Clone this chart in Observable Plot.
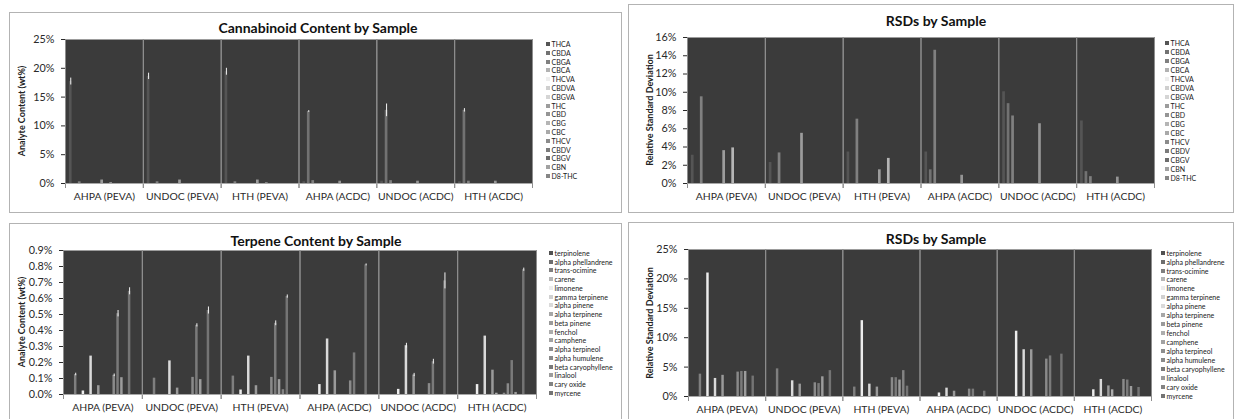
<!DOCTYPE html>
<html><head><meta charset="utf-8">
<script src="https://cdn.jsdelivr.net/npm/d3@7"></script>
<script src="https://cdn.jsdelivr.net/npm/@observablehq/plot@0.6"></script>
<style>
body{margin:0;background:#fff;font-family:Lato,"Open Sans",sans-serif;}
#page{position:relative;width:1236px;height:419px;overflow:hidden;background:#fff;}
.box{position:absolute;border:1px solid #b3b3b3;box-sizing:border-box;}
.title{position:absolute;font-weight:bold;font-size:14px;color:#111;transform:translate(-50%,-50%);white-space:nowrap;}
.ytitle{position:absolute;font-weight:bold;font-size:9px;color:#222;transform:translate(-50%,-50%) rotate(-90deg);white-space:nowrap;}
.legend{position:absolute;font-size:7px;color:#222;}
.legend .row{display:flex;align-items:center;white-space:nowrap;}
.legend .sw{display:inline-block;width:4px;height:4px;margin-right:1.5px;flex:none;}
.chart{position:absolute;}
.chart g[aria-label^="fx-axis"] text{font-size:10.4px;}
.chart g[aria-label^="y-axis"] text{font-size:10.8px;}
</style></head><body><div id="page"></div>
<script>
const samples = ["AHPA (PEVA)", "UNDOC (PEVA)", "HTH (PEVA)", "AHPA (ACDC)", "UNDOC (ACDC)", "HTH (ACDC)"];

const cannabinoids = ["THCA","CBDA","CBGA","CBCA","THCVA","CBDVA","CBGVA","THC","CBD","CBG","CBC","THCV","CBDV","CBGV","CBN","D8-THC"];
const cannabinoidColors = ["#555555","#727272","#808080","#b2b2b2","#eeeeee","#cfcfcf","#d5d5d5","#9c9c9c","#959595","#b5b5b5","#a9a9a9","#8b8b8b","#7b7b7b","#6d6d6d","#a1a1a1","#868686"];

const terpenes = ["terpinolene","alpha phellandrene","trans-ocimine","carene","limonene","gamma terpinene","alpha pinene","alpha terpinene","beta pinene","fenchol","camphene","alpha terpineol","alpha humulene","beta caryophyllene","linalool","cary oxide","myrcene"];
const terpeneColors = ["#515151","#6e6e6e","#7f7f7f","#b6b6b6","#ededed","#d0d0d0","#dadada","#a7a7a7","#9a9a9a","#adadad","#a2a2a2","#8e8e8e","#8a8a8a","#7a7a7a","#9c9c9c","#838383","#747474"];

// wt% per sample (rows) and cannabinoid (columns)
const cannabinoidContent = [
  [17.7,0,0.3,0,0,0,0,0.6,0,0.12,0,0,0,0,0,0],
  [18.6,0,0.3,0,0,0,0,0.6,0,0,0,0,0,0,0,0],
  [19.4,0,0.3,0,0,0,0,0.6,0,0.1,0,0,0,0,0,0],
  [0.3,12.5,0.5,0,0,0,0,0,0.4,0,0,0,0,0,0,0],
  [0.4,12.7,0.5,0,0,0,0,0,0.4,0,0,0,0,0,0,0],
  [0.3,12.7,0.4,0,0,0,0,0,0.4,0,0,0,0,0,0,0]
];
const cannabinoidContentErr = [
  [0.6,0,0,0,0,0,0,0,0,0,0,0,0,0,0,0],
  [0.55,0,0,0,0,0,0,0,0,0,0,0,0,0,0,0],
  [0.6,0,0,0,0,0,0,0,0,0,0,0,0,0,0,0],
  [0,0.15,0,0,0,0,0,0,0,0,0,0,0,0,0,0],
  [0,1.1,0,0,0,0,0,0,0,0,0,0,0,0,0,0],
  [0,0.3,0,0,0,0,0,0,0,0,0,0,0,0,0,0]
];
// RSD % per sample and cannabinoid
const cannabinoidRSD = [
  [3.1,0,9.5,0,0,0,0,3.6,0,3.9,0,0,0,0,0,0],
  [2.3,0,3.35,0,0,0,0,5.5,0,0,0,0,0,0,0,0],
  [3.45,0,7.05,0,0,0,0,1.5,0,2.75,0,0,0,0,0,0],
  [3.45,1.5,14.6,0,0,0,0,0,0.9,0,0,0,0,0,0,0],
  [10.05,8.75,7.4,0,0,0,0,0,6.55,0,0,0,0,0,0,0],
  [6.85,1.3,0.75,0,0,0,0,0,0.7,0,0,0,0,0,0,0]
];
// wt% per sample and terpene
const terpeneContent = [
  [0,0,0.125,0,0.022,0,0.24,0,0.055,0,0,0,0.12,0.505,0.105,0,0.645],
  [0,0,0.102,0,0,0,0.21,0,0.04,0,0,0,0.107,0.432,0.093,0,0.525],
  [0,0,0.115,0,0.028,0,0.24,0,0.055,0,0,0,0.107,0.445,0.093,0.03,0.612],
  [0,0,0,0,0.062,0,0.347,0,0.148,0,0,0,0.085,0.26,0,0,0.81],
  [0,0,0,0,0.032,0,0.305,0,0.122,0,0,0,0.068,0.205,0,0,0.71],
  [0,0,0,0,0.062,0,0.365,0,0.152,0.008,0,0.008,0.067,0.212,0.013,0,0.78]
];
const terpeneContentErr = [
  [0,0,0.008,0,0,0,0,0,0,0,0,0,0.008,0.02,0,0,0.022],
  [0,0,0,0,0,0,0,0,0,0,0,0,0,0.01,0,0,0.022],
  [0,0,0,0,0,0,0,0,0,0,0,0,0,0.015,0,0,0.01],
  [0,0,0,0,0,0,0,0,0,0,0,0,0,0,0,0,0.006],
  [0,0,0,0,0,0,0.015,0,0.01,0,0,0,0,0.015,0,0,0.05],
  [0,0,0,0,0,0,0,0,0,0,0,0,0,0,0,0,0.01]
];
// RSD % per sample and terpene
const terpeneRSD = [
  [0,0,3.8,0,21.0,0,3.07,0,3.6,0,0,0,4.15,4.26,4.26,0,3.47],
  [0,0,4.7,0,0,0,2.67,0,2.1,0,0,0,2.33,2.2,3.35,0,4.4],
  [0,0,1.6,0,12.9,0,2.1,0,1.6,0,0,0,3.2,3.2,2.8,4.4,1.76],
  [0,0,0,0,0.6,0,1.42,0,0.9,0,0,0,1.25,1.25,0,0,0.9],
  [0,0,0,0,11.1,0,7.95,0,7.95,0,0,0,6.36,6.9,0,0,7.2],
  [0,0,0,0,1.14,0,2.9,0,1.8,1.14,0,0,2.9,2.8,1.7,0,1.53]
];

const cannabinoidContentTicks = [0,5,10,15,20,25];
const cannabinoidRSDTicks = [0,2,4,6,8,10,12,14,16];
const terpeneContentTicks = [0,0.1,0.2,0.3,0.4,0.5,0.6,0.7,0.8,0.9];
const terpeneRSDTicks = [0,5,10,15,20,25];

const page = document.getElementById("page");

function addEl(cls, css, text) {
  const d = document.createElement("div");
  d.className = cls;
  Object.assign(d.style, css);
  if (text != null) d.textContent = text;
  page.appendChild(d);
  return d;
}

function rowsOf(values, errs, analytes) {
  const out = [];
  samples.forEach((s, i) => analytes.forEach((a, j) => out.push({sample: s, analyte: a, value: values[i][j], err: errs ? errs[i][j] : 0})));
  return out;
}

function panel(cfg) {
  addEl("box", {left: cfg.box[0] + "px", top: cfg.box[1] + "px", width: cfg.box[2] + "px", height: cfg.box[3] + "px"});
  addEl("title", {left: cfg.title[0] + "px", top: cfg.title[1] + "px"}, cfg.titleText);
  addEl("ytitle", {left: cfg.ytitle[0] + "px", top: cfg.ytitle[1] + "px"}, cfg.ytitleText);
  const data = rowsOf(cfg.values, cfg.errs, cfg.analytes);
  const ticks = cfg.ticks;
  const svg = Plot.plot({
    width: cfg.w, height: cfg.h,
    marginLeft: cfg.m[0], marginRight: cfg.m[1], marginTop: cfg.m[2], marginBottom: cfg.m[3],
    style: {fontFamily: "Lato, 'Open Sans', sans-serif", fontSize: "11px", color: "#2a2a2a", background: "transparent", overflow: "visible"},
    fx: {domain: samples, padding: 0, round: false, label: null, axis: "bottom", tickSize: 0, tickPadding: 9},
    x: {domain: cfg.analytes, axis: null, round: false, paddingInner: cfg.pi, paddingOuter: cfg.po, align: cfg.align},
    y: {domain: [0, ticks[ticks.length - 1]], ticks: ticks, tickFormat: cfg.fmt, tickSize: 4, tickPadding: 7, label: null},
    color: {domain: cfg.analytes, range: cfg.colors},
    marks: [
      Plot.frame({fill: "#3b3b3b"}),
      Plot.frame({anchor: "left", stroke: "#8e8e8e", insetBottom: -4}),
      Plot.frame({anchor: "right", stroke: "#8e8e8e", insetBottom: -4}),
      Plot.barY(data, {fx: "sample", x: "analyte", y: "value", fill: "analyte"}),
      Plot.ruleX(data.filter(d => d.err > 0), {fx: "sample", x: "analyte", y1: d => d.value - d.err, y2: d => d.value + d.err, stroke: "#f2f2f2", strokeWidth: 1}),
      Plot.ruleY([0], {stroke: "#a8a8a8"})
    ]
  });
  svg.classList.add("chart");
  svg.style.left = cfg.pos[0] + "px";
  svg.style.top = cfg.pos[1] + "px";
  page.appendChild(svg);
  const lg = addEl("legend", {left: cfg.legend[0] + "px", top: cfg.legend[1] + "px"});
  cfg.analytes.forEach((a, i) => {
    const r = document.createElement("div");
    r.className = "row";
    r.style.height = cfg.legend[2] + "px";
    const sw = document.createElement("span");
    sw.className = "sw";
    sw.style.background = cfg.colors[i];
    const t = document.createElement("span");
    t.textContent = a;
    r.appendChild(sw); r.appendChild(t);
    lg.appendChild(r);
  });
}

const pct = d => d + "%";
const pct1 = d => d.toFixed(1) + "%";

panel({
  box: [9, 12, 613, 201], title: [318, 27], titleText: "Cannabinoid Content by Sample",
  ytitle: [21, 111], ytitleText: "Analyte Content (wt%)",
  values: cannabinoidContent, errs: cannabinoidContentErr, analytes: cannabinoids, colors: cannabinoidColors,
  ticks: cannabinoidContentTicks, fmt: pct,
  pos: [9, 30], w: 540, h: 182, m: [56, 17, 9, 29], pi: 0.4, po: 0.87, align: 0.5,
  legend: [546, 39.6, 8.8]
});
panel({
  box: [628, 4, 606, 209], title: [936, 20], titleText: "RSDs by Sample",
  ytitle: [649, 110], ytitleText: "Relative Standard Deviation",
  values: cannabinoidRSD, errs: null, analytes: cannabinoids, colors: cannabinoidColors,
  ticks: cannabinoidRSDTicks, fmt: pct,
  pos: [628, 28], w: 540, h: 184, m: [59, 14, 9, 29], pi: 0.4, po: 0.87, align: 0.5,
  legend: [1165, 38.5, 9.0]
});
panel({
  box: [9, 223, 613, 210], title: [316, 240], titleText: "Terpene Content by Sample",
  ytitle: [21, 322], ytitleText: "Analyte Content (wt%)",
  values: terpeneContent, errs: terpeneContentErr, analytes: terpenes, colors: terpeneColors,
  ticks: terpeneContentTicks, fmt: pct1,
  pos: [9, 240], w: 540, h: 182, m: [54, 13, 10, 28], pi: 0.35, po: 1.91, align: 0.22,
  legend: [549, 248.6, 8.75]
});
panel({
  box: [628, 222, 606, 210], title: [936, 238], titleText: "RSDs by Sample",
  ytitle: [649, 323], ytitleText: "Relative Standard Deviation",
  values: terpeneRSD, errs: null, analytes: terpenes, colors: terpeneColors,
  ticks: terpeneRSDTicks, fmt: pct,
  pos: [628, 240], w: 530, h: 182, m: [60, 7, 9, 26], pi: 0.35, po: 1.91, align: 0.22,
  legend: [1161, 248.2, 8.94]
});
</script></body></html>
